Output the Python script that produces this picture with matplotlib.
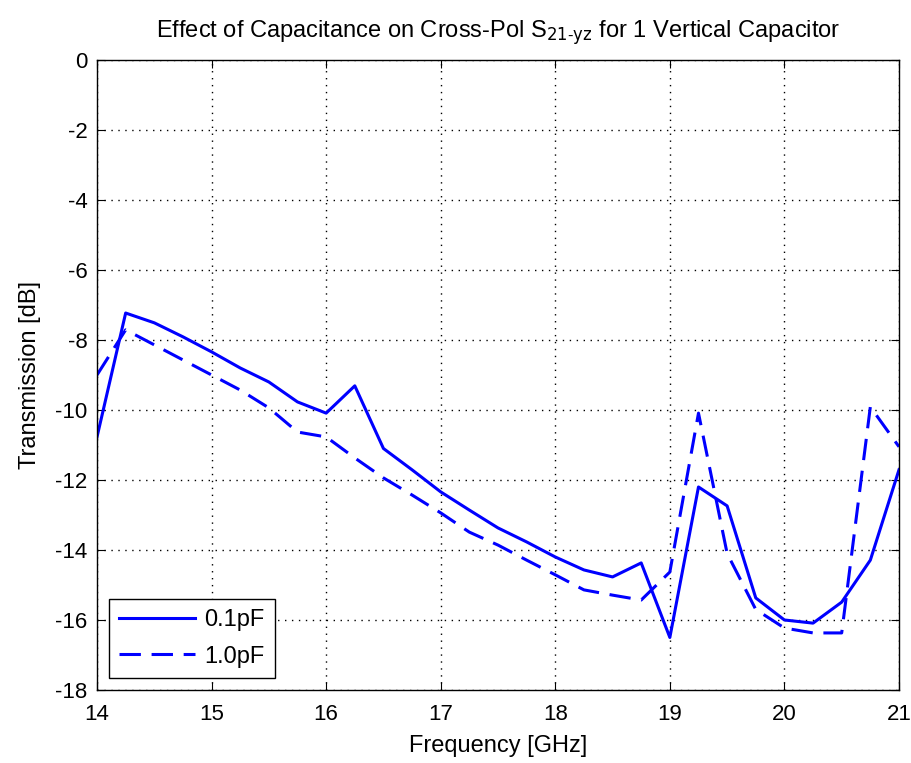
import numpy as np
import matplotlib
matplotlib.use("Agg")
import matplotlib.pyplot as plt

plt.rcParams['font.family'] = ['Liberation Sans', 'DejaVu Sans']
plt.rcParams['mathtext.fontset'] = 'custom'
plt.rcParams['mathtext.rm'] = 'Liberation Sans'
plt.rcParams['mathtext.it'] = 'Liberation Sans'
plt.rcParams['axes.unicode_minus'] = False

# frequency sweep [GHz]
freq = np.arange(14.0, 21.001, 0.25)

# cross-pol transmission [dB]
s21_01pF = [-10.77, -7.23, -7.51, -7.91, -8.34, -8.80, -9.20, -9.77, -10.09,
            -9.31, -11.10, -11.71, -12.34, -12.86, -13.37, -13.77, -14.20,
            -14.57, -14.77, -14.37, -16.50, -12.20, -12.74, -15.37, -16.00,
            -16.09, -15.49, -14.29, -11.71]
s21_10pF = [-9.00, -7.71, -8.14, -8.57, -9.00, -9.43, -9.94, -10.63, -10.77,
            -11.37, -11.94, -12.43, -12.94, -13.49, -13.86, -14.29, -14.71,
            -15.14, -15.29, -15.43, -14.63, -10.09, -14.10, -15.70, -16.23,
            -16.37, -16.37, -9.91, -11.05]

fig = plt.figure(figsize=(9.11, 7.63), dpi=100)
ax = fig.add_axes([0.1065, 0.0957, 0.8803, 0.8257])

ax.plot(freq, s21_01pF, color='blue', lw=2.2, label='0.1pF')
ax.plot(freq, s21_10pF, color='blue', lw=2.2, linestyle=(0, (7, 3.5)), label='1.0pF')

ax.set_xlim(14, 21)
ax.set_ylim(-18, 0)
ax.set_xticks(np.arange(14, 22, 1))
ax.set_yticks(np.arange(-18, 1, 2))
ax.grid(True, color='black', linestyle=(0, (1, 4)), linewidth=1)
ax.tick_params(direction='in', top=True, right=True, length=6, labelsize=16)
ax.tick_params(axis='x', pad=10)
ax.tick_params(axis='y', pad=7)
for sp in ax.spines.values():
    sp.set_linewidth(1.0)

ax.set_xlabel('Frequency [GHz]', fontsize=17, labelpad=7)
ax.set_ylabel('Transmission [dB]', fontsize=17, labelpad=10)
ax.set_title(r'Effect of Capacitance on Cross-Pol S$_{\mathsf{21\text{-}yz}}$ for 1 Vertical Capacitor',
             fontsize=17, pad=16)

leg = ax.legend(loc='lower left', fontsize=17, fancybox=False, framealpha=1,
                edgecolor='black', handlelength=3.2, handletextpad=0.4,
                borderaxespad=0.5, borderpad=0.45, labelspacing=0.6)
leg.get_frame().set_linewidth(1.0)

fig.savefig('out.png', dpi=100)
